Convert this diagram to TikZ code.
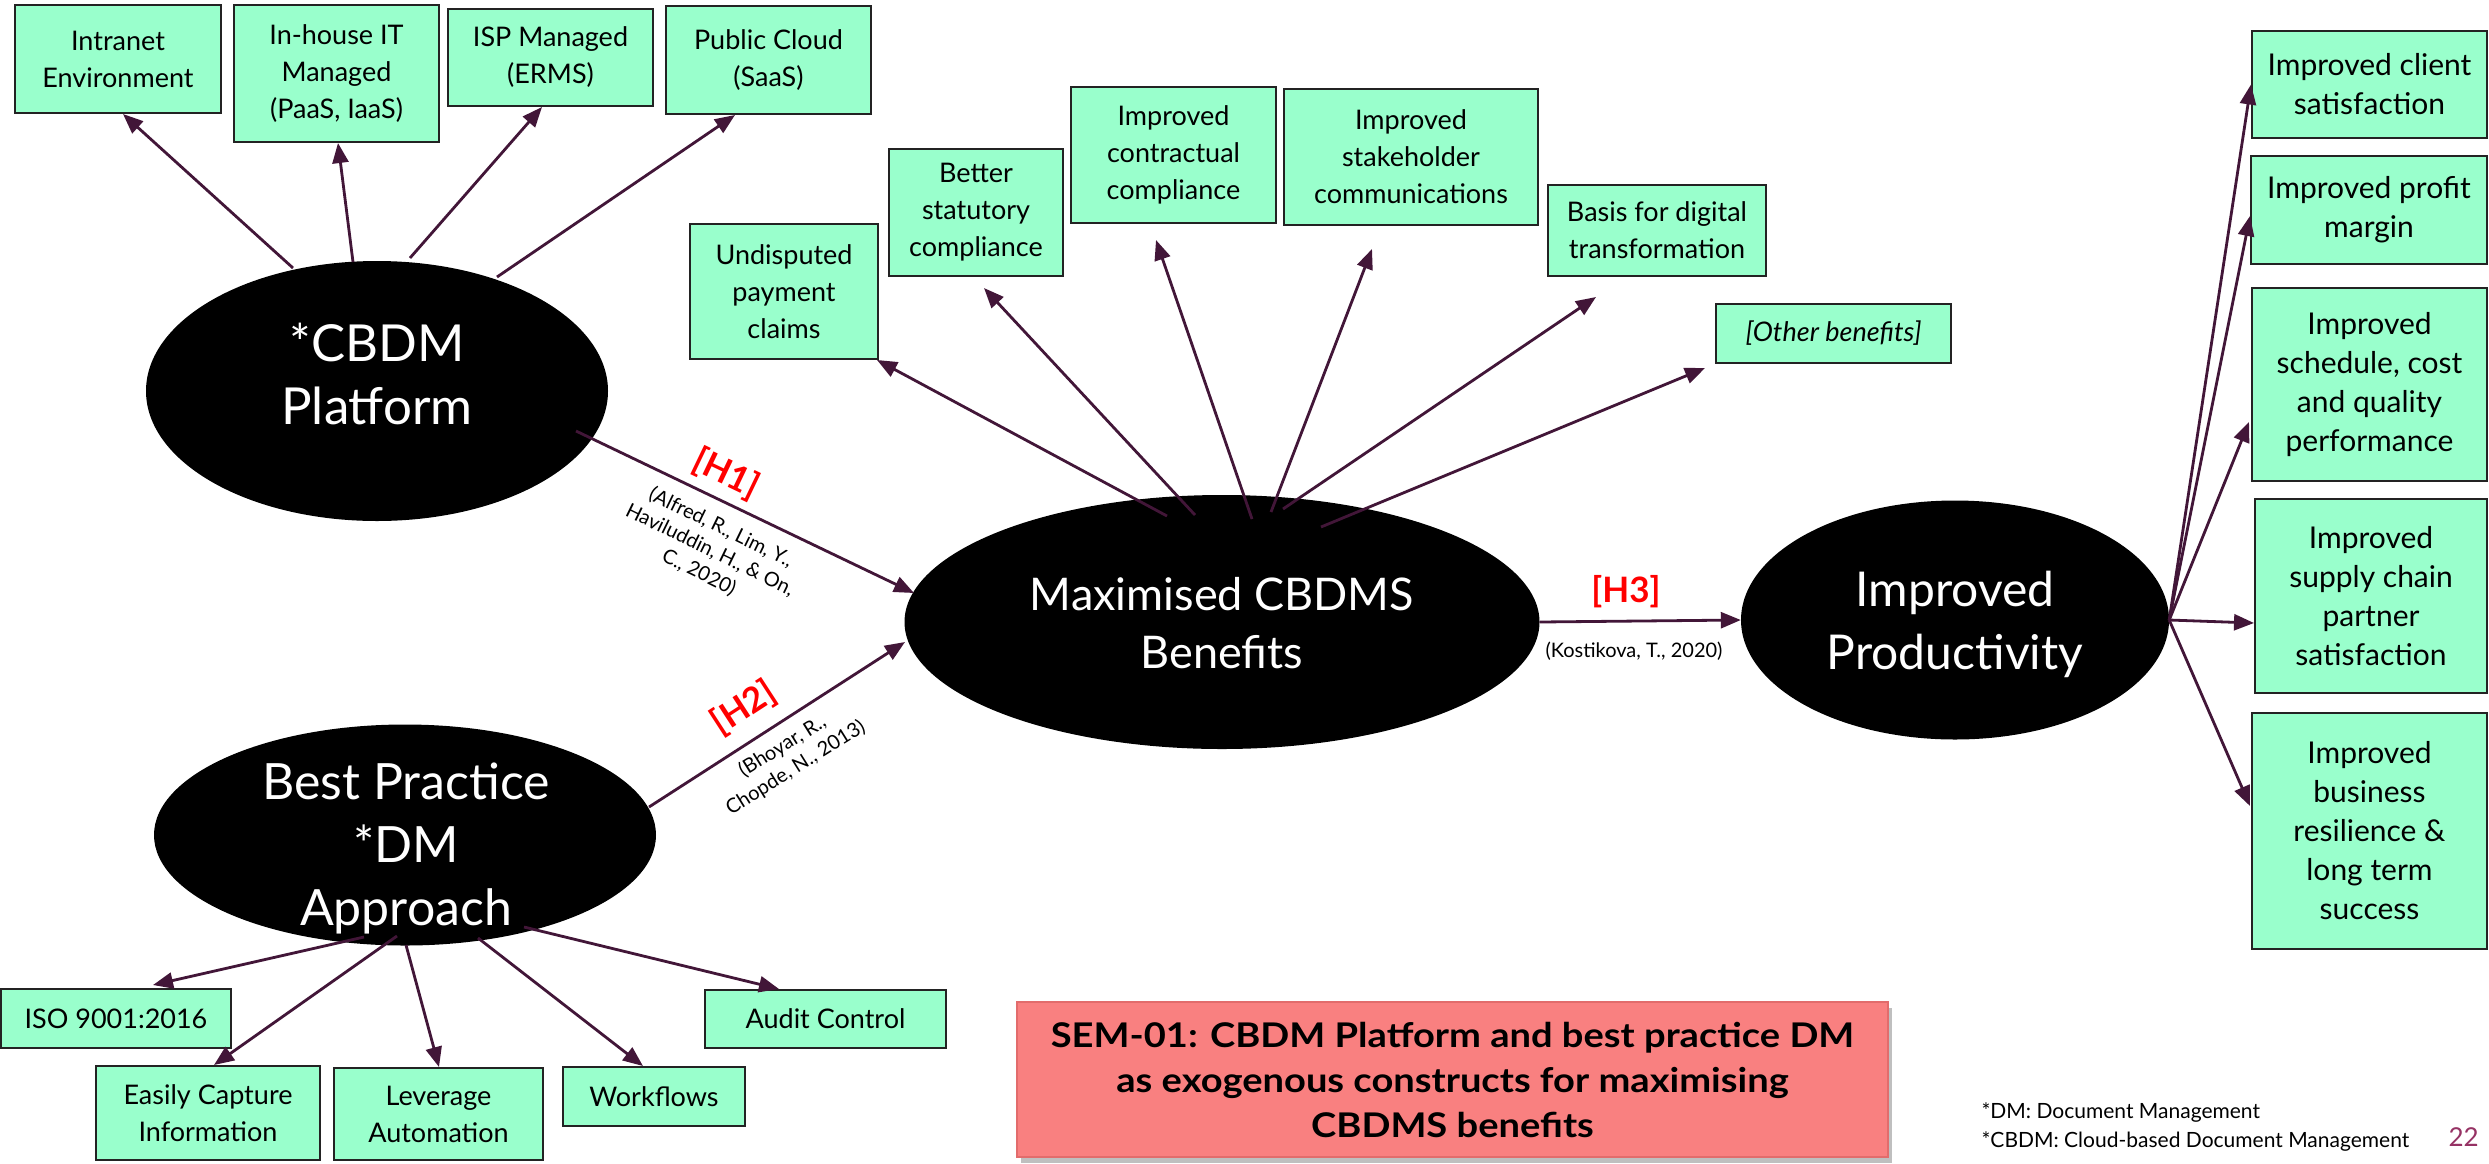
\documentclass[tikz,border=0pt]{standalone}
\usepackage{fontspec}
\setmainfont{Lato}
\newfontfamily\semfont[FakeStretch=1.12]{Lato}
\usetikzlibrary{arrows.meta,shapes.geometric,calc,shadows}

\definecolor{mint}{RGB}{153,255,204}
\definecolor{plum}{RGB}{66,22,56}
\definecolor{boxline}{RGB}{35,35,35}
\definecolor{salmon}{RGB}{249,128,128}
\definecolor{salmonedge}{RGB}{226,108,108}
\definecolor{pagenum}{RGB}{150,50,100}

\begin{document}
\begin{tikzpicture}[x=1pt,y=-1pt,
  box/.style={draw=boxline, line width=2pt, fill=mint, inner sep=0pt, align=center,
    font=\fontsize{27}{37}\selectfont},
  rbox/.style={box, font=\fontsize{30}{39}\selectfont},
  oval/.style={ellipse, fill=black, inner sep=0pt},
  ovaltext/.style={text=white, align=center, font=\fontsize{48}{63}\selectfont},
  link/.style={draw=plum, line width=2.8pt, -{Triangle[length=20pt,width=16pt]}},
  hyp/.style={text=red, font=\fontsize{35}{38}\selectfont\bfseries},
  cite/.style={align=center, font=\fontsize{20}{25}\selectfont},
  note/.style={anchor=base west, font=\fontsize{21}{26}\selectfont},
]
\useasboundingbox[fill=white] (0,0) rectangle (2489,1163);

% ---------- constructs ----------
\node[oval, minimum width=462pt, minimum height=260pt] (cbdm) at (377,391) {};
\node[ovaltext, font=\fontsize{51}{63}\selectfont] (cbdmtxt) at (377,374) {*CBDM\\Platform};

\node[oval, minimum width=502pt, minimum height=221pt] (best) at (405,835) {};
\node[ovaltext, font=\fontsize{50}{63}\selectfont] (besttxt) at (406,848) {Best Practice\\*DM\\Approach};

\node[oval, minimum width=635pt, minimum height=254pt] (max) at (1222,622) {};
\node[ovaltext, font=\fontsize{45}{58}\selectfont] (maxtxt) at (1222,623) {Maximised CBDMS\\Benefits};

\node[oval, minimum width=428pt, minimum height=239pt] (prod) at (1955,620) {};
\node[ovaltext] (prodtxt) at (1955,624) {Improved\\Productivity};

% ---------- platform options ----------
\node[box, minimum width=206pt, minimum height=108pt] (intranet) at (118,59) {Intranet\\Environment};
\node[box, minimum width=205pt, minimum height=137pt] (inhouse) at (336.5,73.5) {In-house IT\\Managed\\(PaaS, IaaS)};
\node[box, minimum width=205pt, minimum height=97pt] (isp) at (550.5,57.5) {ISP Managed\\(ERMS)};
\node[box, minimum width=205pt, minimum height=108pt] (public) at (768.5,60) {Public Cloud\\(SaaS)};

% ---------- benefits ----------
\node[box, minimum width=188pt, minimum height=135pt] (undisputed) at (784,291.5) {Undisputed\\payment\\claims};
\node[box, minimum width=174pt, minimum height=127pt] (statutory) at (976,212.5) {Better\\statutory\\compliance};
\node[box, minimum width=205pt, minimum height=136pt] (contract) at (1173.5,155) {Improved\\contractual\\compliance};
\node[box, minimum width=254pt, minimum height=136pt] (stake) at (1411,157) {Improved\\stakeholder\\communications};
\node[box, minimum width=218pt, minimum height=91pt] (digital) at (1657,230.5) {Basis for digital\\transformation};
\node[box, minimum width=235pt, minimum height=59pt] (other) at (1833.5,333.5) {\itshape [Other benefits]};

% ---------- productivity outcomes ----------
\node[rbox, minimum width=235pt, minimum height=107pt] (client) at (2369.5,84.5) {Improved client\\satisfaction};
\node[rbox, minimum width=236pt, minimum height=108pt] (profit) at (2369,210) {Improved profit\\margin};
\node[rbox, minimum width=235pt, minimum height=193pt] (schedule) at (2369.5,384.5) {Improved\\schedule, cost\\and quality\\performance};
\node[rbox, minimum width=232pt, minimum height=194pt] (supply) at (2371,596) {Improved\\supply chain\\partner\\satisfaction};
\node[rbox, minimum width=235pt, minimum height=236pt] (resilience) at (2369.5,831) {Improved\\business\\resilience \&\\long term\\success};

% ---------- DM practices ----------
\node[box, minimum width=230pt, minimum height=59pt] (iso) at (116,1018.5) {ISO 9001:2016};
\node[box, minimum width=224pt, minimum height=94pt] (capture) at (208,1113) {Easily Capture\\Information};
\node[box, minimum width=209pt, minimum height=92pt] (automation) at (438.5,1114) {Leverage\\Automation};
\node[box, minimum width=182pt, minimum height=59pt] (workflows) at (654,1096.5) {Workflows};
\node[box, minimum width=241pt, minimum height=58pt] (audit) at (825.5,1019) {Audit Control};

% ---------- free arrow ends ----------
\coordinate (tipstat) at (984,288);
\coordinate (tipcontract) at (1156,240);
\coordinate (tipstake) at (1372,249);
\coordinate (tipdigital) at (1596,297);
\coordinate (tipother) at (1705,368);

% ---------- connectors ----------
\draw[link] ($(cbdm)+(-84,-123)$) -- ([xshift=5pt]intranet.south);
\draw[link] ($(cbdm)+(-24,-129)$) -- ([xshift=1.5pt]inhouse.south);
\draw[link] ($(cbdm)+(33,-133)$) -- ([xshift=-8.5pt]isp.south);
\draw[link] ($(cbdm)+(120,-114)$) -- ([xshift=-33.5pt]public.south);

\draw[link] ($(cbdm)+(199,40)$) -- ($(max)+(-308,-29)$);
\draw[link] ($(best)+(244,-28)$) -- ($(max)+(-317,20)$);
\draw[link] (max.east) -- (prod.west);

\draw[link] ($(max)+(-55,-106)$) -- ([xshift=-2pt]undisputed.south east);
\draw[link] ($(max)+(-27,-107)$) -- (tipstat);
\draw[link] ($(max)+(30,-103)$) -- (tipcontract);
\draw[link] ($(max)+(49,-110)$) -- (tipstake);
\draw[link] ($(max)+(61,-113)$) -- (tipdigital);
\draw[link] ($(max)+(99,-95)$) -- (tipother);

\draw[link] (prod.east) -- ([yshift=0pt]client.west);
\draw[link] (prod.east) -- ([yshift=-6pt]profit.west);
\draw[link] (prod.east) -- ([yshift=-37.5pt,xshift=-2pt]schedule.west);
\draw[link] (prod.east) -- ([yshift=-27pt]supply.west);
\draw[link] (prod.east) -- ([yshift=25pt,xshift=-1pt]resilience.west);

\draw[link] ($(best)+(-41,102)$) -- ([xshift=37pt,yshift=3pt]iso.north);
\draw[link] ($(best)+(-8,101)$) -- ([xshift=6pt]capture.north);
\draw[link] ($(best)+(1,110)$) -- ([xshift=0.5pt]automation.north);
\draw[link] ($(best)+(73,103)$) -- ([xshift=-11pt]workflows.north);
\draw[link] ($(best)+(119,92)$) -- ([xshift=-46.5pt]audit.north);

% ---------- hypothesis labels ----------
\node[hyp, rotate=-25.6] (h1) at (726,474) {[H1]};
\node[cite, rotate=-26] (h1cite) at (710,550) {(Alfred, R., Lim, Y.,\\Haviluddin, H., \& On,\\C., 2020)};
\node[hyp, rotate=33] (h2) at (744,708) {[H2]};
\node[cite, rotate=32] (h2cite) at (789,757) {(Bhoyar, R.,\\Chopde, N., 2013)};
\node[hyp] (h3) at (1626,592) {[H3]};
\node[cite] (h3cite) at (1634,651) {(Kostikova, T., 2020)};

% ---------- caption and notes ----------
\node[fill=salmon, draw=salmonedge, line width=2pt,
      drop shadow={shadow xshift=4pt, shadow yshift=-6pt, opacity=0.5},
      minimum width=871pt, minimum height=155pt, inner sep=0pt, align=center,
      font=\semfont\fontsize{34}{45}\selectfont\bfseries] (sem) at (1452.5,1079.5)
  {SEM-01: CBDM Platform and best practice DM\\as exogenous constructs for maximising\\CBDMS benefits};

\node[note] (notedm) at (1978,1118) {*DM: Document Management};
\node[note] (notecbdm) at (1978,1147) {*CBDM: Cloud-based Document Management};
\node[anchor=base west, text=pagenum, font=\fontsize{26}{30}\selectfont] (pagen) at (2445,1146) {22};
\end{tikzpicture}
\end{document}
